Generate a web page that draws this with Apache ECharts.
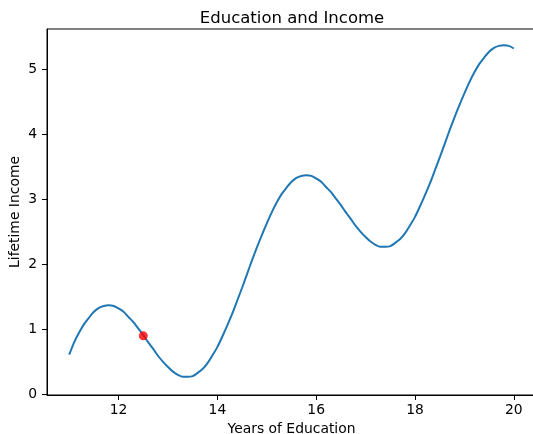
<!DOCTYPE html>
<html>
<head>
<meta charset="utf-8">
<script src="https://cdn.jsdelivr.net/npm/echarts@6/dist/echarts.min.js"></script>
<style>
html,body{margin:0;padding:0;background:#fff;}
#chart{width:533px;height:434px;}
</style>
</head>
<body>
<div id="chart"></div>
<script>
// Years of education (x) and lifetime income (y)
var years = [11.0, 11.1, 11.2, 11.3, 11.4, 11.5, 11.6, 11.7, 11.8, 11.9,
             12.0, 12.1, 12.2, 12.3, 12.4, 12.5, 12.6, 12.7, 12.8, 12.9,
             13.0, 13.1, 13.2, 13.3, 13.4, 13.5, 13.6, 13.7, 13.8, 13.9,
             14.0, 14.1, 14.2, 14.3, 14.4, 14.5, 14.6, 14.7, 14.8, 14.9,
             15.0, 15.1, 15.2, 15.3, 15.4, 15.5, 15.6, 15.7, 15.8, 15.9,
             16.0, 16.1, 16.2, 16.3, 16.4, 16.5, 16.6, 16.7, 16.8, 16.9,
             17.0, 17.1, 17.2, 17.3, 17.4, 17.5, 17.6, 17.7, 17.8, 17.9,
             18.0, 18.1, 18.2, 18.3, 18.4, 18.5, 18.6, 18.7, 18.8, 18.9,
             19.0, 19.1, 19.2, 19.3, 19.4, 19.5, 19.6, 19.7, 19.8, 19.9, 20.0];
var income = [0.61, 0.80, 0.95, 1.08, 1.18, 1.27, 1.33, 1.36, 1.37, 1.36,
              1.32, 1.27, 1.19, 1.11, 1.01, 0.91, 0.80, 0.70, 0.59, 0.50,
              0.42, 0.35, 0.30, 0.27, 0.27, 0.28, 0.33, 0.39, 0.48, 0.60,
              0.73, 0.89, 1.06, 1.24, 1.44, 1.64, 1.85, 2.06, 2.26, 2.45,
              2.63, 2.80, 2.95, 3.08, 3.18, 3.27, 3.33, 3.36, 3.37, 3.36,
              3.32, 3.27, 3.19, 3.11, 3.01, 2.91, 2.80, 2.70, 2.59, 2.50,
              2.42, 2.35, 2.30, 2.27, 2.27, 2.28, 2.33, 2.39, 2.48, 2.60,
              2.73, 2.89, 3.06, 3.24, 3.44, 3.64, 3.85, 4.06, 4.26, 4.45,
              4.63, 4.80, 4.95, 5.08, 5.18, 5.27, 5.33, 5.36, 5.37, 5.36, 5.32];
// Highlighted point
var markerX = [12.5];
var markerY = [0.9];
// Tick labels
var xTicks = [12, 14, 16, 18, 20];
var yTicks = [0, 1, 2, 3, 4, 5];

var lineData = years.map(function (x, i) { return [x, income[i]]; });
var dotData = markerX.map(function (x, i) { return [x, markerY[i]]; });

var font = 'DejaVu Sans';
var chart = echarts.init(document.getElementById('chart'), null, {renderer: 'canvas'});
chart.setOption({
  animation: false,
  backgroundColor: '#ffffff',
  title: {
    text: 'Education and Income',
    left: 287,
    top: 5,
    textAlign: 'center',
    textStyle: {fontFamily: font, fontSize: 16.5, fontWeight: 'normal', color: '#000'}
  },
  grid: {
    left: 47, right: -3, top: 29, bottom: 39,
    outerBoundsMode: 'none',
    containLabel: false,
    show: true, borderColor: '#000', borderWidth: 1, backgroundColor: 'transparent'
  },
  xAxis: {
    type: 'value',
    min: 10.55, max: 20.45,
    name: 'Years of Education',
    nameLocation: 'middle',
    nameGap: 27,
    nameMoveOverlap: false,
    nameTextStyle: {fontFamily: font, fontSize: 13.9, color: '#000'},
    axisLine: {show: true, onZero: false, lineStyle: {color: '#000', width: 1}},
    axisTick: {show: true, length: 5, lineStyle: {color: '#000'}, customValues: xTicks},
    axisLabel: {fontFamily: font, fontSize: 13.9, color: '#000', margin: 8, customValues: xTicks},
    splitLine: {show: false}
  },
  yAxis: {
    type: 'value',
    min: -0.01, max: 5.62,
    name: 'Lifetime Income',
    nameLocation: 'middle',
    nameGap: 25,
    nameMoveOverlap: false,
    nameTextStyle: {fontFamily: font, fontSize: 13.9, color: '#000'},
    axisLine: {show: true, onZero: false, lineStyle: {color: '#000', width: 1}},
    axisTick: {show: true, length: 5, lineStyle: {color: '#000'}, customValues: yTicks},
    axisLabel: {fontFamily: font, fontSize: 13.9, color: '#000', margin: 10, customValues: yTicks},
    splitLine: {show: false}
  },
  series: [
    {
      type: 'line',
      data: lineData,
      showSymbol: false,
      smooth: 0.3,
      lineStyle: {color: '#1f77b4', width: 2},
      z: 2
    },
    {
      type: 'scatter',
      data: dotData,
      symbol: 'circle',
      symbolSize: 9,
      itemStyle: {color: '#ff0000'},
      z: 3
    }
  ]
});
</script>
</body>
</html>
